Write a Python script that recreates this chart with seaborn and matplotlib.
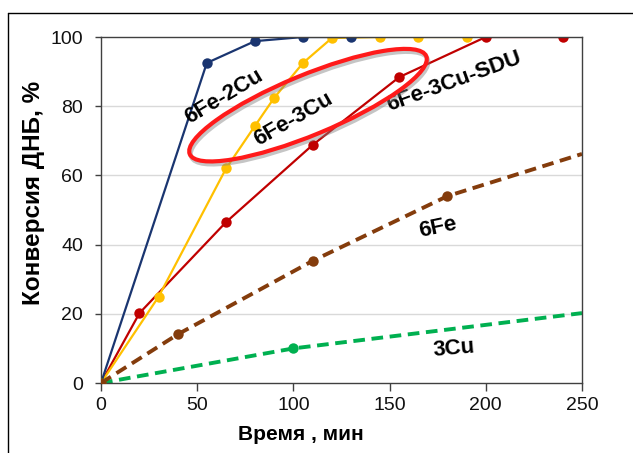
import numpy as np
import pandas as pd
import matplotlib
matplotlib.use('Agg')
import matplotlib.pyplot as plt
import matplotlib.transforms as mtransforms
from matplotlib.patches import Ellipse
from matplotlib.lines import Line2D
import seaborn as sns

# data
t_2cu = [0, 55, 80, 105, 130]
c_2cu = [0, 92.5, 98.8, 100, 100]

t_3cu = [0, 30, 65, 80, 90, 105, 120, 145, 165, 190]
c_3cu = [0, 25, 62, 74.3, 82.4, 92.5, 99.7, 100, 100, 100]

t_sdu = [0, 20, 65, 110, 155, 200, 240]
c_sdu = [0, 20.2, 46.5, 68.8, 88.4, 100, 100]

t_6fe = [0, 40, 110, 180]
c_6fe = [0, 14.1, 35.3, 54]
t_6fe_line = [0, 40, 110, 180, 250]
c_6fe_line = [0, 14.1, 35.3, 54, 66.2]

t_cu = [0, 100]
c_cu = [0, 10]
t_cu_line = [0, 100, 250]
c_cu_line = [0, 10, 20.2]

labels = ['6Fe-2Cu', '6Fe-3Cu', '6Fe-3Cu-SDU', '6Fe', '3Cu']
label_pos = [(64, 82.7, 31), (100, 76.3, 30), (183.5, 87, 20), (175, 44.8, 12), (183.5, 9.8, 5)]

navy, gold, dred, brown, green = '#1a3570', '#ffc000', '#c00000', '#843c0c', '#00b050'

sns.set_style('white')
plt.rcParams['font.family'] = ['Liberation Sans', 'DejaVu Sans']
plt.rcParams['text.color'] = 'black'
plt.rcParams['axes.labelcolor'] = 'black'
plt.rcParams['xtick.labelcolor'] = '#111111'
plt.rcParams['ytick.labelcolor'] = '#111111'

fig = plt.figure(figsize=(6.33, 4.53), dpi=100)
ax = fig.add_axes([101 / 633, 1 - 383 / 453, 481 / 633, 346 / 453])

for y in [20, 40, 60, 80]:
    ax.axhline(y, color='#d9d9d9', lw=1, zorder=0)

dash = (0, (3.0, 1.7))
msize = 7.5
sns.lineplot(x=t_cu_line, y=c_cu_line, color=green, lw=2.8, linestyle=dash, ax=ax)
sns.scatterplot(x=t_cu, y=c_cu, color=green, s=msize ** 2, linewidth=0, ax=ax, zorder=3)

sns.lineplot(x=t_sdu, y=c_sdu, color=dred, lw=1.6, marker='o', markersize=msize,
             markeredgecolor=dred, markeredgewidth=0, ax=ax)
sns.lineplot(x=t_3cu, y=c_3cu, color=gold, lw=1.6, marker='o', markersize=msize,
             markeredgecolor=gold, markeredgewidth=0, ax=ax)
sns.lineplot(x=t_2cu, y=c_2cu, color=navy, lw=1.6, marker='o', markersize=msize,
             markeredgecolor=navy, markeredgewidth=0, ax=ax)

sns.lineplot(x=t_6fe_line, y=c_6fe_line, color=brown, lw=2.8, linestyle=dash, ax=ax)
sns.scatterplot(x=t_6fe, y=c_6fe, color=brown, s=msize ** 2, linewidth=0, ax=ax, zorder=4)

for lab, (x, y, rot) in zip(labels, label_pos):
    ax.text(x, y, lab, fontsize=16, fontweight='bold', rotation=rot, color='black',
            ha='center', va='center', rotation_mode='anchor', zorder=6)

# red ellipse around the 6Fe-3Cu label, with a soft shadow under it
center = (107.6, 80.3)
for dx, dy, col, alpha, z in [(0.015, -0.03, 'gray', 0.45, 6.5), (0, 0, '#ff1a1a', 1, 7)]:
    tr = (fig.dpi_scale_trans + mtransforms.ScaledTranslation(dx, dy, fig.dpi_scale_trans)
          + mtransforms.ScaledTranslation(*center, ax.transData))
    ax.add_patch(Ellipse((0, 0), 2.56, 0.6, angle=22.5, fill=False, edgecolor=col, alpha=alpha,
                         lw=3, transform=tr, zorder=z, clip_on=False))

ax.set_xlim(0, 250)
ax.set_ylim(0, 100)
ax.set_xticks([0, 50, 100, 150, 200, 250])
ax.set_yticks([0, 20, 40, 60, 80, 100])
ax.tick_params(axis='x', direction='out', length=6, width=1, labelsize=14, pad=4, color='#404040')
ax.tick_params(axis='y', direction='out', length=4, width=1, labelsize=14, pad=9, color='#404040')
ax.tick_params(bottom=True, left=True)
for s in ax.spines.values():
    s.set_color('#404040')
    s.set_linewidth(1)

ax.set_xlabel('Время , мин', fontsize=15, fontweight='bold')
ax.set_ylabel('Конверсия ДНБ, %', fontsize=17.5, fontweight='bold')
ax.xaxis.set_label_coords(0.415, -0.122)
ax.yaxis.set_label_coords(-0.116, 0.55)

fig.add_artist(Line2D([8 / 633, 8 / 633], [0, 1 - 13 / 453], transform=fig.transFigure, color='black', lw=1))
fig.add_artist(Line2D([8 / 633, 1], [1 - 13 / 453, 1 - 13 / 453], transform=fig.transFigure, color='black', lw=1))

fig.savefig('out.png', dpi=100)
